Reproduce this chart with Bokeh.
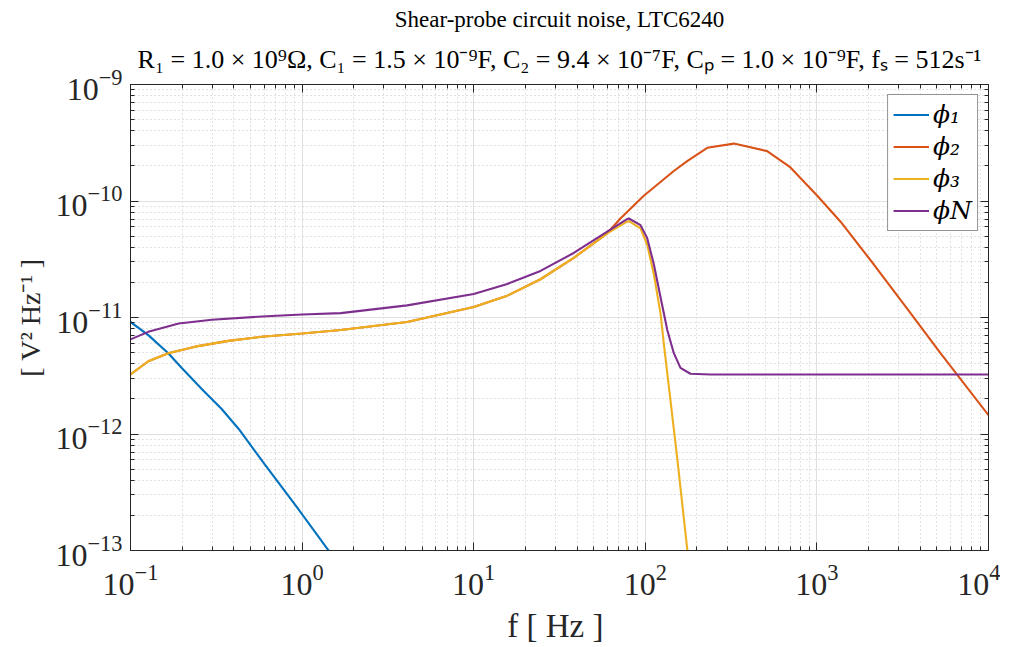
from bokeh.plotting import figure
from bokeh.models import (Range1d, LogAxis, LogTicker, LogTickFormatter, CustomJSTickFormatter,
                          Title, Legend, LegendItem, ColumnDataSource)
from bokeh.embed import file_html
from bokeh.resources import INLINE

# ---------------- data ----------------
f_phi1 = [0.1, 0.127, 0.166, 0.199, 0.261, 0.340, 0.426, 0.598, 0.935, 1.40, 2.0]
phi1 = [9.16e-12, 7.06e-12, 4.94e-12, 3.69e-12, 2.42e-12, 1.64e-12, 1.11e-12,
        5.62e-13, 2.34e-13, 1.04e-13, 5.1e-14]

f_phi2 = [0.1, 0.127, 0.166, 0.238, 0.372, 0.582, 1.0, 1.68, 4.09, 10.0, 15.7, 24.5,
          38.3, 60.0, 71.6, 98.0, 146.6, 175.4, 229.6, 328.0, 513.0, 701.0, 1005.0,
          1374.0, 2148.0, 3357.0, 5248.0, 10000.0]
phi2 = [3.24e-12, 4.21e-12, 4.94e-12, 5.62e-12, 6.30e-12, 6.84e-12, 7.30e-12, 7.80e-12,
        9.16e-12, 1.23e-11, 1.54e-11, 2.13e-11, 3.25e-11, 5.28e-11, 7.08e-11, 1.11e-10,
        1.81e-10, 2.20e-10, 2.86e-10, 3.11e-10, 2.68e-10, 1.94e-10, 1.11e-10, 6.64e-11,
        2.85e-11, 1.19e-11, 4.94e-12, 1.45e-12]

f_phi3 = [0.1, 0.127, 0.166, 0.238, 0.372, 0.582, 1.0, 1.68, 4.09, 10.0, 15.7, 24.5,
          38.3, 60.0, 78.3, 80.2, 93.8, 102.6, 112.2, 122.7, 128.8, 137.1, 153.5,
          175.4, 198.6]
phi3 = [3.24e-12, 4.21e-12, 4.94e-12, 5.62e-12, 6.30e-12, 6.84e-12, 7.30e-12, 7.80e-12,
        9.16e-12, 1.23e-11, 1.54e-11, 2.13e-11, 3.25e-11, 5.28e-11, 6.64e-11, 6.71e-11,
        5.82e-11, 4.21e-11, 2.34e-11, 1.08e-11, 5.62e-12, 2.58e-12, 6.19e-13,
        1.04e-13, 2.0e-14]

f_phiN = [0.1, 0.127, 0.191, 0.298, 0.582, 1.0, 1.68, 4.09, 10.0, 15.7, 24.5, 38.3,
          60.0, 78.3, 80.2, 93.8, 102.6, 112.2, 122.7, 134.3, 146.6, 160.3, 183.2,
          240.0, 10000.0]
phiN = [6.49e-12, 7.53e-12, 8.87e-12, 9.57e-12, 1.02e-11, 1.06e-11, 1.09e-11, 1.27e-11,
        1.59e-11, 1.94e-11, 2.51e-11, 3.58e-11, 5.46e-11, 6.98e-11, 7.08e-11, 6.21e-11,
        4.80e-11, 2.85e-11, 1.49e-11, 7.80e-12, 4.94e-12, 3.69e-12, 3.29e-12,
        3.24e-12, 3.24e-12]

series_labels = ["ϕ₁", "ϕ₂", "ϕ₃", "ϕN"]
series_colors = ["#0072BD", "#D95319", "#EDB120", "#7E2F8E"]

title_line1 = "Shear-probe circuit noise, LTC6240"
title_line2 = ("R₁ = 1.0 × 10⁹Ω, C₁ = 1.5 × 10⁻⁹F, C₂ = 9.4 × 10⁻⁷F, "
               "Cₚ = 1.0 × 10⁻⁹F, fₛ = 512s⁻¹")
x_label = "f  [ Hz ]"
y_label = "[ V² Hz⁻¹ ]"

# ---------------- figure ----------------
FONT = "Liberation Serif"
AX = "#262626"

p = figure(width=1000, height=646, x_axis_type="log", y_axis_type="log",
           x_range=Range1d(0.1, 1e4), y_range=Range1d(1e-13, 1e-9),
           output_backend="svg", toolbar_location=None,
           min_border_left=130, min_border_right=12, min_border_top=84,
           min_border_bottom=89)
p.background_fill_color = "white"
p.border_fill_color = "white"
p.outline_line_color = AX
p.outline_line_width = 1


def style_axis(ax, labels=True):
    ax.ticker = LogTicker(desired_num_ticks=6, num_minor_ticks=10)
    ax.axis_line_color = AX
    ax.major_tick_line_color = AX
    ax.minor_tick_line_color = AX
    ax.major_tick_in = 8
    ax.major_tick_out = 0
    ax.minor_tick_in = 4
    ax.minor_tick_out = 0
    ax.axis_label_text_font = FONT
    ax.axis_label_text_font_style = "normal"
    ax.axis_label_text_color = "#262626"
    if labels:
        ax.formatter = LogTickFormatter()
        ax.major_label_text_font = FONT
        ax.major_label_text_font_size = "32px"
        ax.major_label_text_color = "#262626"
    else:
        ax.formatter = CustomJSTickFormatter(code="return '';")
        ax.major_label_text_font_size = "1px"
        ax.major_label_standoff = 0


style_axis(p.xaxis[0])
style_axis(p.yaxis[0])
p.xaxis[0].axis_label = x_label
p.yaxis[0].axis_label = y_label
p.xaxis[0].axis_label_text_font_size = "33px"
p.yaxis[0].axis_label_text_font_size = "28px"
p.xaxis[0].major_label_standoff = 14
p.yaxis[0].major_label_standoff = 8
p.xaxis[0].axis_label_standoff = 10
p.yaxis[0].axis_label_standoff = 6

top_ax = LogAxis()
right_ax = LogAxis()
style_axis(top_ax, labels=False)
style_axis(right_ax, labels=False)
p.add_layout(top_ax, "above")
p.add_layout(right_ax, "right")

# grid
for g in (p.xgrid[0], p.ygrid[0]):
    g.grid_line_color = "#e0e0e0"
    g.grid_line_width = 1
    g.minor_grid_line_color = "#c4c4c4"
    g.minor_grid_line_dash = "1 3"
    g.minor_grid_line_width = 1
    g.ticker = LogTicker(desired_num_ticks=6, num_minor_ticks=10)

# titles (first added is closest to the frame)
p.add_layout(Title(text=title_line2, align="center", text_font=FONT,
                   text_font_size="26px", text_font_style="normal",
                   text_color="#000000", standoff=22), "above")
p.add_layout(Title(text=title_line1, align="center", text_font=FONT,
                   text_font_size="23px", text_font_style="normal",
                   text_color="#000000", standoff=0), "above")

# lines
renderers = []
for fx, vals, col in [(f_phi1, phi1, series_colors[0]), (f_phi2, phi2, series_colors[1]),
                      (f_phi3, phi3, series_colors[2]), (f_phiN, phiN, series_colors[3])]:
    src = ColumnDataSource(dict(f=fx, v=vals))
    r = p.line("f", "v", source=src, line_color=col, line_width=2.1)
    renderers.append(r)

legend = Legend(items=[LegendItem(label=lab, renderers=[r])
                       for lab, r in zip(series_labels, renderers)],
                location="top_right")
legend.label_text_font = "DejaVu Serif"
legend.label_text_font_size = "25px"
legend.label_text_font_style = "italic"
legend.label_text_color = "#000000"
legend.glyph_width = 36
legend.glyph_height = 27
legend.label_height = 27
legend.label_standoff = 4
legend.spacing = 3
legend.padding = 5
legend.margin = 10
legend.border_line_color = AX
legend.border_line_width = 1
legend.background_fill_color = "white"
legend.background_fill_alpha = 1.0
p.add_layout(legend, "center")

open("out.html", "w", encoding="utf-8").write(file_html(p, INLINE))
